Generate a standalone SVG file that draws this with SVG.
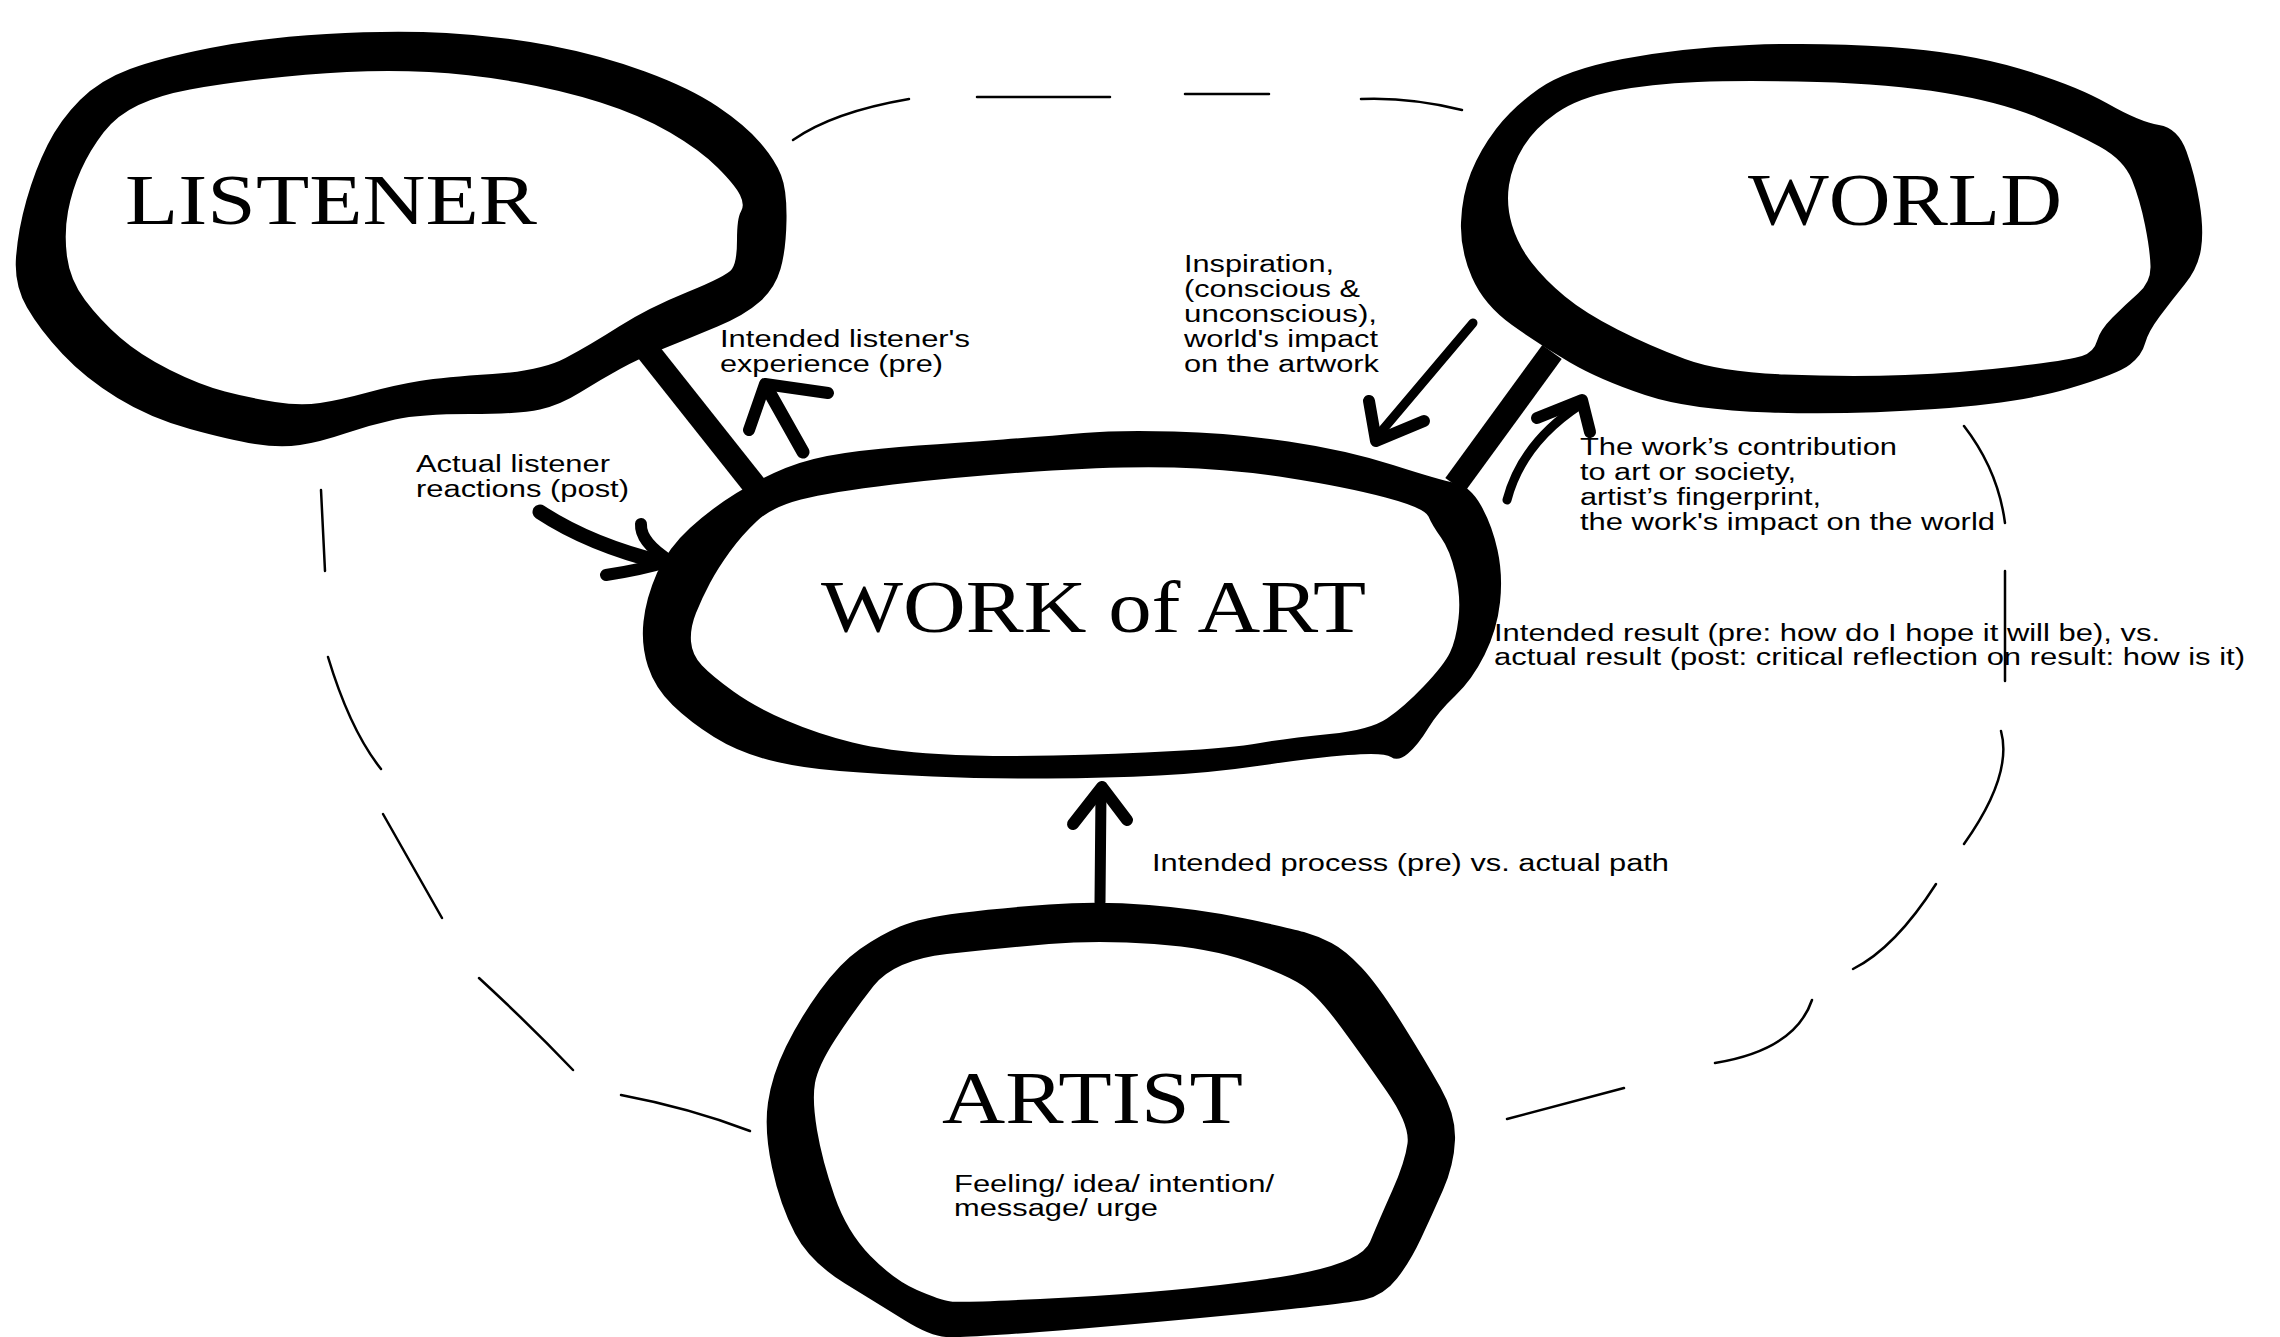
<svg xmlns="http://www.w3.org/2000/svg" width="2280" height="1337" viewBox="0 0 2280 1337">
  <style>
    .ring { fill: #000; fill-rule: evenodd; stroke: none; }
    .title { font-family: "Liberation Serif", "Times New Roman", serif; fill: #000; }
    .note { font-family: "Liberation Sans", Arial, sans-serif; font-size: 23px; fill: #000; }
    .link { stroke: #000; stroke-width: 24; stroke-linecap: butt; fill: none; }
    .shaft { stroke: #000; fill: none; stroke-linecap: round; stroke-linejoin: round; }
    .head { stroke: #000; fill: none; stroke-width: 12; stroke-linecap: round; stroke-linejoin: round; }
    .dash { stroke: #000; stroke-width: 2.5; fill: none; stroke-linecap: round; }
  </style>
  <rect x="0" y="0" width="2280" height="1337" fill="#fff"/>

  <!-- dashed loop around the whole cycle -->
  <g id="loop">
    <path class="dash" d="M793,140 Q833,112 909,99"/>
    <path class="dash" d="M977,97 L1110,97"/>
    <path class="dash" d="M1185,94 L1269,94"/>
    <path class="dash" d="M1361,99 Q1410,97 1462,110"/>
    <path class="dash" d="M1964,426 Q1998,470 2005,523"/>
    <path class="dash" d="M2005,571 L2005,681"/>
    <path class="dash" d="M2001,731 Q2013,775 1964,844"/>
    <path class="dash" d="M1936,884 Q1895,948 1853,969"/>
    <path class="dash" d="M1812,1000 Q1795,1050 1715,1063"/>
    <path class="dash" d="M1624,1088 L1507,1119"/>
    <path class="dash" d="M321,490 L325,571"/>
    <path class="dash" d="M328,657 Q350,730 381,769"/>
    <path class="dash" d="M383,814 L442,918"/>
    <path class="dash" d="M479,978 Q530,1025 573,1070"/>
    <path class="dash" d="M621,1095 Q690,1108 750,1131"/>
  </g>

  <!-- connectors and arrows -->
  <g id="connectors">
    <line class="link" x1="643" y1="345" x2="758" y2="490"/>
    <line class="link" x1="1552" y1="352" x2="1455" y2="485"/>

    <!-- work -> listener (intended experience) -->
    <path class="shaft" stroke-width="13" d="M803,452 L767,388"/>
    <path class="head" d="M749,430 L765,384 L828,393"/>

    <!-- listener -> work (actual reactions) -->
    <path class="shaft" stroke-width="15" d="M540,512 Q590,545 664,563"/>
    <path class="head" d="M641,524 Q640,542 670,561 Q640,570 606,575"/>

    <!-- world -> work (inspiration) -->
    <path class="shaft" stroke-width="9" d="M1473,323 L1380,433"/>
    <path class="head" d="M1369,401 L1376,441 L1424,421"/>

    <!-- work -> world (contribution) -->
    <path class="shaft" stroke-width="9" d="M1507,500 Q1522,443 1580,405"/>
    <path class="head" stroke-width="11" d="M1537,418 L1582,400 L1590,432"/>

    <!-- artist -> work (process) -->
    <path class="shaft" stroke-width="11" d="M1100,902 L1101,792"/>
    <path class="head" d="M1073,824 L1102,787 L1127,820"/>
  </g>

  <g id="listener">
    <path class="ring" d="M326.5,34 Q393,30 446.5,33 Q500,36 550,45.5 Q600,55 645,71.5 Q690,88 717.5,106.5 Q745,125 760,142.5 Q775,160 781,175 Q787,190 786.5,220 Q786,250 780.5,269 Q775,288 760,301.5 Q745,315 717.5,326.5 Q690,338 665,348 Q640,358 620,369 Q600,380 580,392.5 Q560,405 540,409.5 Q520,414 470,414 Q420,414 395,419.5 Q370,425 345,433.5 Q320,442 300,445 Q280,448 255,444 Q230,440 190,429 Q150,418 117.5,398 Q85,378 62.5,354 Q40,330 27,307.5 Q14,285 16,257.5 Q18,230 26.5,200 Q35,170 47.5,145 Q60,120 80,100 Q100,80 130,69 Q160,58 210,48 Q260,38 326.5,34 Z M347,72 Q388,70 429,72 Q470,74 515.5,82 Q561,90 600.5,102.5 Q640,115 670,132.5 Q700,150 717.5,167.5 Q735,185 740,195 Q745,205 741,211.5 Q737,218 737,240 Q737,262 732,269 Q727,276 687.5,292 Q648,308 619,326.5 Q590,345 565.5,358 Q541,371 492.5,374 Q444,377 419.5,381 Q395,385 367.5,392.5 Q340,400 320,403 Q300,406 275,402 Q250,398 225,391.5 Q200,385 170,370 Q140,355 120,337.5 Q100,320 85,300 Q70,280 67,256.5 Q64,233 68,211.5 Q72,190 81,170 Q90,150 103.5,132.5 Q117,115 138.5,105 Q160,95 190,89.5 Q220,84 263,79 Q306,74 347,72 Z"/>
    <text class="title" x="125" y="224" font-size="71" textLength="412" lengthAdjust="spacingAndGlyphs">LISTENER</text>
  </g>

  <g id="world">
    <path class="ring" d="M1749,45 Q1818,42 1890.5,47 Q1963,52 2019,68.5 Q2075,85 2107.5,103.5 Q2140,122 2159,125 Q2178,128 2186.5,151.5 Q2195,175 2199.5,202.5 Q2204,230 2201,249 Q2198,268 2185,284 Q2172,300 2160,316 Q2148,332 2145,343.5 Q2142,355 2130,364.5 Q2118,374 2069,388.5 Q2020,403 1935,409 Q1850,415 1770,412.5 Q1690,410 1645,395 Q1600,380 1570,362.5 Q1540,345 1512,325 Q1484,305 1472,277.5 Q1460,250 1461,222.5 Q1462,195 1471,172.5 Q1480,150 1496,129 Q1512,108 1538.5,89 Q1565,70 1622.5,59 Q1680,48 1749,45 Z M1697.5,82 Q1745,80 1817.5,82 Q1890,84 1945,93 Q2000,102 2037.5,117.5 Q2075,133 2099.5,146.5 Q2124,160 2132,180 Q2140,200 2145,225 Q2150,250 2150.5,266 Q2151,282 2138,293.5 Q2125,305 2112.5,317.5 Q2100,330 2097,341 Q2094,352 2082,356 Q2070,360 2015.5,366.5 Q1961,373 1905,375 Q1849,377 1784.5,374.5 Q1720,372 1685,359 Q1650,346 1617.5,329.5 Q1585,313 1565,296.5 Q1545,280 1531.5,262.5 Q1518,245 1512,225 Q1506,205 1509,185 Q1512,165 1523.5,146.5 Q1535,128 1556.5,113 Q1578,98 1614,91 Q1650,84 1697.5,82 Z"/>
    <text class="title" x="1748" y="225" font-size="75" textLength="314" lengthAdjust="spacingAndGlyphs">WORLD</text>
  </g>

  <g id="work">
    <path class="ring" d="M736.5,493 Q761,478 785.5,468 Q810,458 845,453 Q880,448 918,445.5 Q956,443 1003,439.5 Q1050,436 1083.5,433 Q1117,430 1174,431.5 Q1231,433 1288.5,441.5 Q1346,450 1393,465 Q1440,480 1455,483 Q1470,486 1481,505.5 Q1492,525 1497.5,550 Q1503,575 1500,602.5 Q1497,630 1484.5,655 Q1472,680 1455,696 Q1438,712 1428,728.5 Q1418,745 1408,753.5 Q1398,762 1391,757 Q1384,752 1348,755 Q1312,758 1261,765.5 Q1210,773 1159,775.5 Q1108,778 1047,778.5 Q986,779 932.5,776.5 Q879,774 839.5,771 Q800,768 769,760 Q738,752 714,737 Q690,722 672.5,705 Q655,688 648,666.5 Q641,645 643.5,621.5 Q646,598 657,573 Q668,548 690,528 Q712,508 736.5,493 Z M757,521 Q772,507 801,499.5 Q830,492 893,484.5 Q956,477 1036.5,471.5 Q1117,466 1174,467.5 Q1231,469 1288.5,478 Q1346,487 1385.5,497.5 Q1425,508 1428.5,516.5 Q1432,525 1441,537.5 Q1450,550 1455.5,573.5 Q1461,597 1458.5,618.5 Q1456,640 1450,652.5 Q1444,665 1424,686 Q1404,707 1387,718.5 Q1370,730 1329.5,734 Q1289,738 1260,743 Q1231,748 1174,751 Q1117,754 1053.5,755.5 Q990,757 938.5,754 Q887,751 852.5,742.5 Q818,734 786.5,720.5 Q755,707 733.5,691.5 Q712,676 702,665.5 Q692,655 691,641.5 Q690,628 696,613 Q702,598 710,583 Q718,568 730,551.5 Q742,535 757,521 Z"/>
    <text class="title" x="821" y="632" font-size="74" textLength="545" lengthAdjust="spacingAndGlyphs">WORK of ART</text>
  </g>

  <g id="artist">
    <path class="ring" d="M1049,904.5 Q1098,901 1149,905 Q1200,909 1245,918.5 Q1290,928 1304,932 Q1318,936 1331.5,943 Q1345,950 1361.5,967.5 Q1378,985 1401.5,1022.5 Q1425,1060 1440.5,1087.5 Q1456,1115 1455,1140 Q1454,1165 1443,1190 Q1432,1215 1421,1238.5 Q1410,1262 1397,1278.5 Q1384,1295 1365,1299.5 Q1346,1304 1231.5,1315 Q1117,1326 1039.5,1332 Q962,1338 946,1337 Q930,1336 905,1320.5 Q880,1305 845,1283.5 Q810,1262 795,1233.5 Q780,1205 772,1167.5 Q764,1130 768,1102.5 Q772,1075 786,1046.5 Q800,1018 820,990.5 Q840,963 860,949 Q880,935 900,926.5 Q920,918 960,913 Q1000,908 1049,904.5 Z M1049,944 Q1098,940 1154,944 Q1210,948 1248.5,961.5 Q1287,975 1302.5,985.5 Q1318,996 1340.5,1026.5 Q1363,1057 1386.5,1091 Q1410,1125 1407.5,1143.5 Q1405,1162 1392.5,1190 Q1380,1218 1370,1242 Q1360,1266 1267,1279 Q1174,1292 1068,1297.5 Q962,1303 951,1301.5 Q940,1300 917,1290 Q894,1280 870.5,1256 Q847,1232 834.5,1196 Q822,1160 817,1130 Q812,1100 815,1083 Q818,1066 835.5,1039 Q853,1012 873.5,986 Q894,960 947,954 Q1000,948 1049,944 Z"/>
    <text class="title" x="942" y="1123" font-size="74" textLength="301" lengthAdjust="spacingAndGlyphs">ARTIST</text>
    <text class="note" x="954" y="1192" textLength="320" lengthAdjust="spacingAndGlyphs">Feeling/ idea/ intention/</text>
    <text class="note" x="954" y="1216" textLength="204" lengthAdjust="spacingAndGlyphs">message/ urge</text>
  </g>

  <!-- relationship labels -->
  <g id="labels">
    <text class="note" x="720" y="347" textLength="250" lengthAdjust="spacingAndGlyphs">Intended listener's</text>
    <text class="note" x="720" y="372" textLength="223" lengthAdjust="spacingAndGlyphs">experience (pre)</text>

    <text class="note" x="1184" y="272" textLength="150" lengthAdjust="spacingAndGlyphs">Inspiration,</text>
    <text class="note" x="1184" y="297" textLength="176" lengthAdjust="spacingAndGlyphs">(conscious &amp;</text>
    <text class="note" x="1184" y="322" textLength="193" lengthAdjust="spacingAndGlyphs">unconscious),</text>
    <text class="note" x="1184" y="347" textLength="194" lengthAdjust="spacingAndGlyphs">world's impact</text>
    <text class="note" x="1184" y="372" textLength="195" lengthAdjust="spacingAndGlyphs">on the artwork</text>

    <text class="note" x="416" y="472" textLength="194" lengthAdjust="spacingAndGlyphs">Actual listener</text>
    <text class="note" x="416" y="497" textLength="213" lengthAdjust="spacingAndGlyphs">reactions (post)</text>

    <text class="note" x="1580" y="455" textLength="317" lengthAdjust="spacingAndGlyphs">The work’s contribution</text>
    <text class="note" x="1580" y="480" textLength="216" lengthAdjust="spacingAndGlyphs">to art or society,</text>
    <text class="note" x="1580" y="505" textLength="241" lengthAdjust="spacingAndGlyphs">artist’s fingerprint,</text>
    <text class="note" x="1580" y="530" textLength="415" lengthAdjust="spacingAndGlyphs">the work's impact on the world</text>

    <text class="note" x="1494" y="641" textLength="666" lengthAdjust="spacingAndGlyphs">Intended result (pre: how do I hope it will be), vs.</text>
    <text class="note" x="1494" y="665" textLength="751" lengthAdjust="spacingAndGlyphs">actual result (post: critical reflection on result: how is it)</text>

    <text class="note" x="1152" y="871" textLength="517" lengthAdjust="spacingAndGlyphs">Intended process (pre) vs. actual path</text>
  </g>
</svg>
